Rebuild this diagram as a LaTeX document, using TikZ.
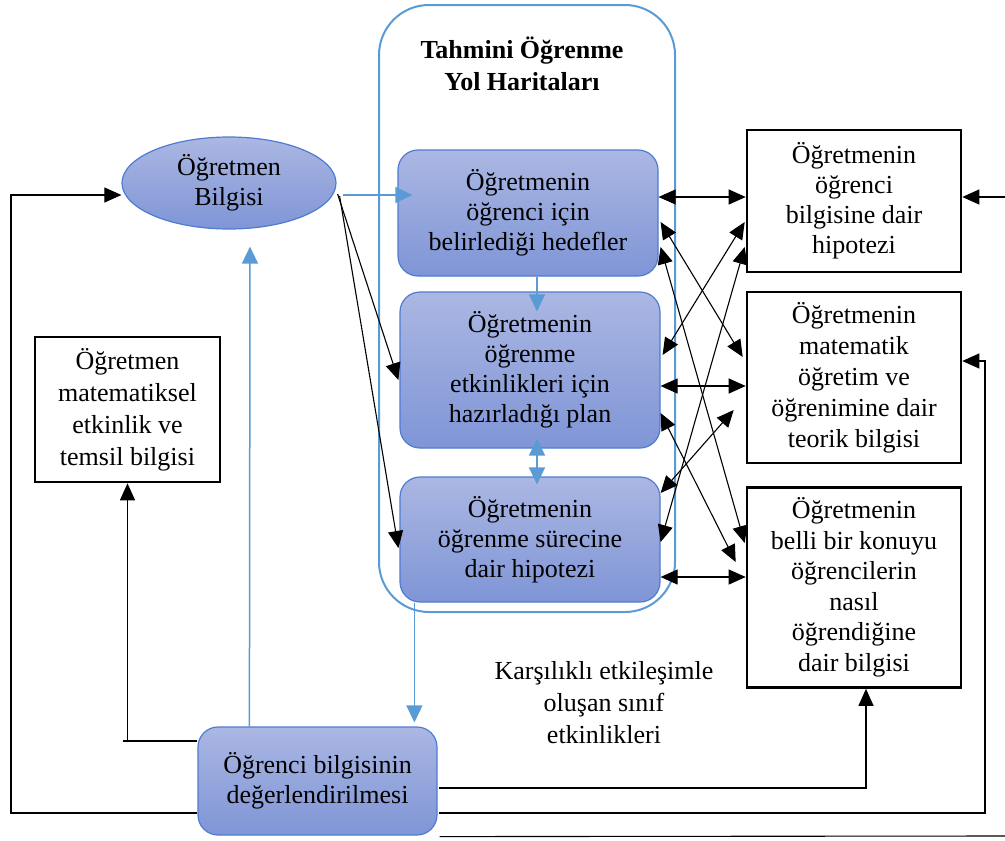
\documentclass[tikz,border=0pt]{standalone}
\usepackage{fontspec}
\setmainfont{Liberation Serif}
\usetikzlibrary{arrows.meta,shapes.geometric,calc}
\definecolor{bline}{HTML}{5B9BD5}
\definecolor{bborder}{HTML}{4F7BD0}
\definecolor{ftop}{HTML}{ABB7E3}
\definecolor{fbot}{HTML}{7F95D6}
\begin{document}
\begin{tikzpicture}[x=1pt,y=-1pt,
  every node/.style={font=\fontsize{26}{30}\selectfont, align=center, inner sep=0pt},
  bluebox/.style={draw=bborder, line width=1.2pt, rounded corners=20pt, top color=ftop, bottom color=fbot},
  blueell/.style={ellipse, draw=bborder, line width=1.2pt, top color=ftop, bottom color=fbot},
  blackbox/.style={draw=black, line width=2.6pt, fill=white},
  tip/.style={-{Triangle[length=17pt,width=15pt]}, line width=1.1pt},
  dtip/.style={{Triangle[length=17pt,width=15pt]}-{Triangle[length=17pt,width=15pt]}, line width=1.1pt},
  btip/.style={-{Triangle[length=17pt,width=16pt]}, draw=bline, line width=1.5pt},
  dbtip/.style={{Triangle[length=17pt,width=16pt]}-{Triangle[length=17pt,width=16pt]}, draw=bline, line width=1.5pt},
]
\useasboundingbox (0,0) rectangle (1005,841);

% frame
\node[draw=bline, line width=2pt, rounded corners=50pt, minimum width=296pt, minimum height=607pt] (frame) at (527,308.5) {};
\node[font=\bfseries\fontsize{26}{32}\selectfont] (title) at (522,64) {Tahmini Öğrenme\\Yol Haritaları};

% middle boxes
\node[bluebox, minimum width=260pt, minimum height=126pt] (M1) at (528,213) {Öğretmenin\\öğrenci için\\belirlediği hedefler};
\node[bluebox, minimum width=260pt, minimum height=156pt] (M2) at (530,370) {Öğretmenin\\öğrenme\\etkinlikleri için\\hazırladığı plan};
\node[bluebox, minimum width=260pt, minimum height=125pt] (M3) at (530,539.5) {Öğretmenin\\öğrenme sürecine\\dair hipotezi};

% left
\node[blueell, minimum width=214pt, minimum height=92pt] (E) at (229,183) {Öğretmen\\Bilgisi};
\node[blackbox, minimum width=185pt, minimum height=145pt, font=\fontsize{26}{32}\selectfont] (L) at (127.5,409.5) {Öğretmen\\matematiksel\\etkinlik ve\\temsil bilgisi};
\node[bluebox, minimum width=239pt, minimum height=108pt] (B) at (317.5,781) {Öğrenci bilgisinin\\değerlendirilmesi};

% right
\node[blackbox, minimum width=214pt, minimum height=142pt] (R1) at (854,201) {Öğretmenin\\öğrenci\\bilgisine dair\\hipotezi};
\node[blackbox, minimum width=214pt, minimum height=171pt, font=\fontsize{26}{31}\selectfont] (R2) at (854,377.5) {Öğretmenin\\matematik\\öğretim ve\\öğrenimine dair\\teorik bilgisi};
\node[blackbox, minimum width=214pt, minimum height=200pt, font=\fontsize{26}{30.5}\selectfont] (R3) at (854,587.5) {Öğretmenin\\belli bir konuyu\\öğrencilerin\\nasıl\\öğrendiğine\\dair bilgisi};

\node[font=\fontsize{26}{32}\selectfont] (K) at (604,703) {Karşılıklı etkileşimle\\oluşan sınıf\\etkinlikleri};

% blue arrows
\draw[btip] ($(E.east)+(6,12)$) -- ($(M1.west)+(15,-18)$);
\draw[btip] ($(M1.south)+(9,0)$) -- ($(M2.north)+(7,20)$);
\draw[dbtip] ($(M2.south)+(7,-10)$) -- ($(M3.north)+(7,8)$);
\draw[btip] ($(M3.south west)+(15,0)$) -- ($(B.north west)+(217,-4)$);
\draw[btip] ($(B.north west)+(52,0)$) -- ($(E.south)+(21,17)$);

% black from ellipse
\draw[tip] ($(E.east)+(1,11)$) -- ($(M2.west)+(-1,10)$);
\draw[tip] ($(E.east)+(3,13)$) -- ($(M3.west)+(-1,8.5)$);

% middle to right
\draw[dtip] (M1.east |- 0,197) -- (R1.west |- 0,197);
\draw[dtip] (M2.east |- 0,386) -- (R2.west |- 0,386);
\draw[dtip] (M3.east |- 0,577) -- (R3.west |- 0,577);
\draw[dtip] ($(M1.east)+(2,9)$) -- ($(R2.west)+(-3,-20.5)$);
\draw[dtip] ($(R1.west)+(-1,21)$) -- ($(M2.east)+(2,-15)$);
\draw[dtip] ($(M1.east)+(2,34)$) -- ($(R3.west)+(-1,-44.5)$);
\draw[dtip] ($(R1.west)+(-1,46)$) -- ($(M3.east)+(0,2.5)$);
\draw[dtip] ($(M2.east)+(0,43)$) -- ($(R3.west)+(-10,-25.5)$);
\draw[dtip] ($(R2.west)+(-12,32.5)$) -- ($(M3.east)+(0,-46.5)$);

% left connections
\draw[line width=1.1pt] ($(B.west)+(0,-40)$) -- ($(B.west)+(-74,-40)$);
\draw[tip] (L.south |- 0,741) -- (L.south);
\draw[tip] ($(B.west)+(0,32)$) -- (11,813) -- (11,195) -- ($(E.west)+(0,12)$);

% right/bottom connections
\draw[tip] ($(B.east)+(1,7)$) -| ($(R3.south)+(12,0)$);
\coordinate (rr) at (985,361);
\draw[tip] ($(B.east)+(1,32)$) -| (rr) -- (R2.east |- rr);
\coordinate (edge) at (1005,836);
\draw[line width=1.1pt] ($(B.south east)+(2,1)$) -- (edge);
\coordinate (edge2) at (1005,197);
\draw[tip] (edge2) -- (R1.east |- edge2);
\end{tikzpicture}
\end{document}
